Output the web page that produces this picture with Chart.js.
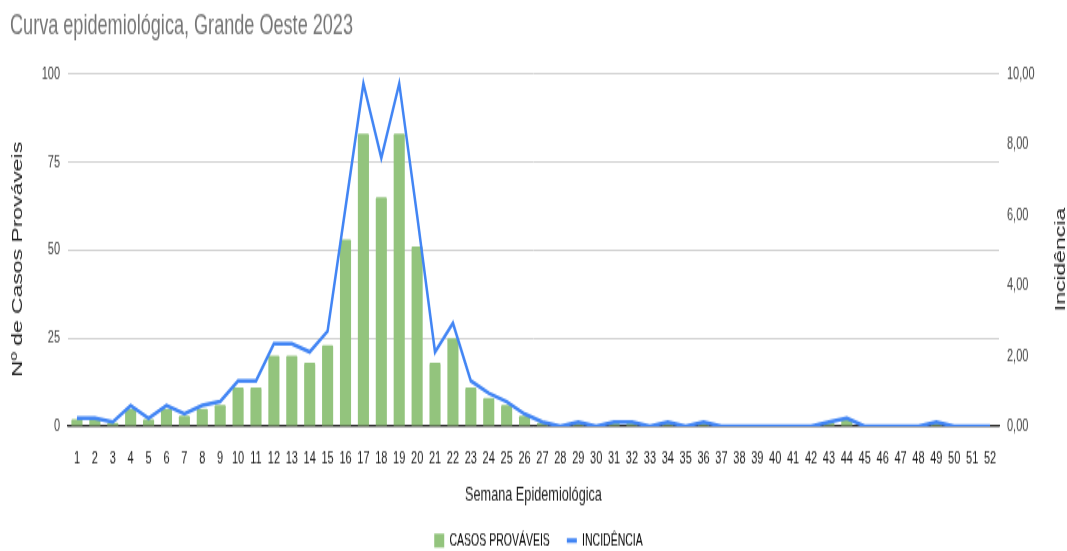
<!DOCTYPE html>
<html>
<head>
<meta charset="utf-8">
<script src="https://cdn.jsdelivr.net/npm/chart.js@4.4.1/dist/chart.umd.min.js"></script>
<style>
  html, body { margin: 0; padding: 0; background: #fff; }
  #wrap { width: 1067px; height: 551px; overflow: hidden; position: relative; }
  /* the reference is stretched vertically, so the chart is drawn short and scaled */
  #chart { width: 1067px; height: 364px; transform: scaleY(1.55); transform-origin: 0 0; display: block; }
</style>
</head>
<body>
<div id="wrap"><canvas id="chart" width="1067" height="364"></canvas></div>
<script>
const semanas = ["1","2","3","4","5","6","7","8","9","10","11","12","13","14","15","16","17","18","19","20","21","22","23","24","25","26",
  "27","28","29","30","31","32","33","34","35","36","37","38","39","40","41","42","43","44","45","46","47","48","49","50","51","52"];
const casosProvaveis = [2,2,1,5,2,5,3,5,6,11,11,20,20,18,23,53,83,65,83,51,18,25,11,8,6,3,
  1,0,1,0,1,1,0,1,0,1,0,0,0,0,0,0,1,2,0,0,0,0,1,0,0,0];
const incidencia = [0.23,0.23,0.12,0.59,0.23,0.59,0.35,0.59,0.70,1.29,1.29,2.34,2.34,2.11,2.70,6.21,9.73,7.62,9.73,5.98,2.11,2.93,1.29,0.94,0.70,0.35,
  0.12,0,0.12,0,0.12,0.12,0,0.12,0,0.12,0,0,0,0,0,0,0.12,0.23,0,0,0,0,0.12,0,0,0];
const ticksCasos = [0,25,50,75,100];
const ticksIncid = [0,2,4,6,8,10];

const verde = "#93c47d";
const azul = "#4285f4";
const fonte = "'Liberation Sans', Arial, sans-serif";

// both axis titles read bottom-to-top, which Chart.js won't do on the right side
const titulosEixos = {
  id: "titulosEixos",
  afterDraw(chart) {
    const c = chart.ctx;
    const a = chart.chartArea;
    const meio = (a.top + a.bottom) / 2 + 6;
    c.save();
    c.font = `14.8px ${fonte}`;
    c.fillStyle = "#222";
    c.textAlign = "center";
    c.textBaseline = "middle";
    [[18, "Nº de Casos Prováveis"], [1061, "Incidência"]].forEach(([x, txt]) => {
      c.save();
      c.translate(x, meio);
      c.rotate(-Math.PI / 2);
      c.fillText(txt, 0, 0);
      c.restore();
    });
    c.restore();
  }
};

const ctx = document.getElementById("chart").getContext("2d");
new Chart(ctx, {
  type: "bar",
  data: {
    labels: semanas,
    datasets: [
      {
        type: "line",
        label: "INCIDÊNCIA",
        data: incidencia,
        yAxisID: "y1",
        borderColor: azul,
        backgroundColor: azul,
        borderWidth: 2.5,
        pointRadius: 0,
        tension: 0,
        order: 0
      },
      {
        type: "bar",
        label: "CASOS PROVÁVEIS",
        data: casosProvaveis,
        yAxisID: "y",
        backgroundColor: verde,
        barPercentage: 0.62,
        categoryPercentage: 1,
        borderRadius: 1,
        order: 1
      }
    ]
  },
  plugins: [titulosEixos],
  options: {
    responsive: false,
    animation: false,
    devicePixelRatio: 1,
    layout: { padding: { left: 10, right: 0, top: 0, bottom: 0 } },
    plugins: {
      tooltip: { enabled: false },
      title: {
        display: true,
        text: "Curva epidemiológica, Grande Oeste 2023",
        align: "start",
        color: "#757575",
        font: { family: fonte, size: 18.1, weight: "normal" },
        padding: { top: 6, bottom: 20 }
      },
      legend: {
        position: "bottom",
        labels: {
          usePointStyle: true,
          pointStyleWidth: 10,
          boxHeight: 9,
          padding: 17,
          color: "#222",
          font: { family: fonte, size: 10.5 },
          generateLabels: () => [
            { text: "CASOS PROVÁVEIS", fillStyle: verde, strokeStyle: verde, lineWidth: 0, pointStyle: "rect", datasetIndex: 1 },
            { text: "INCIDÊNCIA", fillStyle: azul, strokeStyle: azul, lineWidth: 3, pointStyle: "line", datasetIndex: 0 }
          ]
        }
      }
    },
    scales: {
      x: {
        grid: { display: false },
        border: { display: true, color: "#333", width: 1.3 },
        ticks: { color: "#222", font: { family: fonte, size: 11 }, padding: 6, maxRotation: 0, autoSkip: false },
        title: {
          display: true,
          text: "Semana Epidemiológica",
          color: "#222",
          font: { family: fonte, size: 12.7 },
          padding: { top: 0, bottom: -1 }
        },
        afterFit: s => { s.height = 51.5; }
      },
      y: {
        position: "left",
        min: 0,
        max: 100,
        afterBuildTicks: s => { s.ticks = ticksCasos.map(v => ({ value: v })); },
        grid: { color: "#d0d0d0", lineWidth: 1, drawTicks: false },
        border: { display: false },
        ticks: { color: "#444", font: { family: fonte, size: 11 }, padding: 8 },
        afterFit: s => { s.width = 58; }
      },
      y1: {
        position: "right",
        min: 0,
        max: 10,
        afterBuildTicks: s => { s.ticks = ticksIncid.map(v => ({ value: v })); },
        grid: { display: false, drawTicks: false },
        border: { display: false },
        ticks: {
          color: "#444",
          font: { family: fonte, size: 11 },
          padding: 8,
          callback: v => v.toFixed(2).replace(".", ",")
        },
        afterFit: s => { s.width = 68; }
      }
    }
  }
});
</script>
</body>
</html>
